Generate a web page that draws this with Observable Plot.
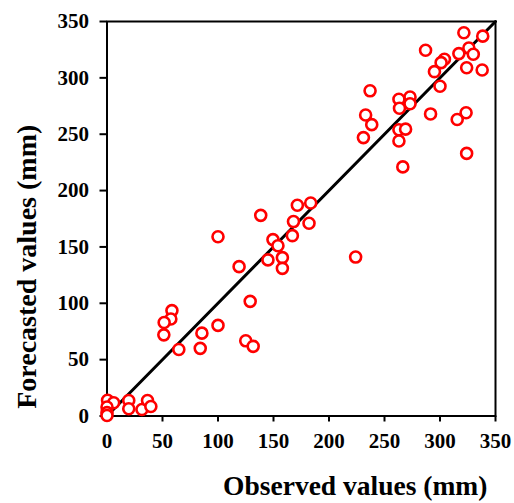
<!DOCTYPE html>
<html>
<head>
<meta charset="utf-8">
<script src="https://cdn.jsdelivr.net/npm/d3@7"></script>
<script src="https://cdn.jsdelivr.net/npm/@observablehq/plot@0.6"></script>
<style>
  html, body { margin: 0; padding: 0; background: #fff; }
  #chart svg { display: block; }
</style>
</head>
<body>
<div id="chart"></div>
<script>
const observed = [321.5, 338.5, 287, 326, 317, 330, 304, 301, 324, 338, 295, 300, 237, 263, 273, 273, 263.5, 233, 291.5, 323.5, 315.5, 238.5, 263, 269, 231, 263, 324, 266.5, 171.5, 183.5, 224, 138.5, 168, 182, 167, 100, 149.5, 154, 145, 158, 158, 119, 129, 58.5, 57.5, 51.5, 51.2, 100, 85.5, 84, 64.7, 125, 131.7, 0.5, 6, 0, 0, 0, 19.6, 19.6, 31.5, 36.5, 39.5];
const forecasted = [340, 337, 324.5, 326.5, 321.5, 321, 316.5, 313.5, 309, 307, 305.5, 292.5, 288.5, 281, 283, 277, 273, 267, 268, 269, 263, 258.5, 254, 254.5, 247, 244, 233, 221, 187, 189, 141, 178, 172.5, 171, 160, 159, 156.5, 151, 138.5, 140.5, 131, 132.5, 101.7, 93.5, 86, 83, 72, 80.4, 73.5, 60, 59, 66.7, 61.8, 14, 11.7, 8, 3, 0.5, 13.8, 6.4, 5.8, 13.8, 8.4];
const tickValues = [0, 50, 100, 150, 200, 250, 300, 350];
const lineX = [0, 350];
const lineY = [0, 350];
const xLabel = "Observed values (mm)";
const yLabel = "Forecasted values (mm)";

const points = observed.map((x, i) => ({x, y: forecasted[i]}));
const diag = lineX.map((x, i) => ({x, y: lineY[i]}));

const chart = Plot.plot({
  width: 514,
  height: 503,
  marginLeft: 106.5,
  marginRight: 19,
  marginTop: 21,
  marginBottom: 87.5,
  style: {fontFamily: "'Liberation Serif', 'Times New Roman', serif", background: "#fff"},
  x: {domain: [0, 350]},
  y: {domain: [0, 350]},
  marks: [
    Plot.frame({stroke: "black", strokeWidth: 2}),
    Plot.axisX({ticks: tickValues, tickSize: 6, tickPadding: 11, fontSize: 21, fontWeight: "bold", strokeWidth: 2, stroke: "black", fill: "black", label: null, tickFormat: d => String(d)}),
    Plot.axisY({ticks: tickValues, tickSize: 7, tickPadding: 11, fontSize: 21, fontWeight: "bold", strokeWidth: 2, stroke: "black", fill: "black", label: null, tickFormat: d => String(d)}),
    Plot.line(diag, {x: "x", y: "y", stroke: "black", strokeWidth: 3}),
    Plot.dot(points, {x: "x", y: "y", r: 5.5, stroke: "#ff0000", strokeWidth: 2.6, fill: "white"}),
    Plot.text([xLabel], {text: d => d, frameAnchor: "bottom", textAnchor: "middle", lineAnchor: "middle", dx: 54, dy: 70, fontSize: 27.5, fontWeight: "bold", fill: "black"}),
    Plot.text([yLabel], {text: d => d, frameAnchor: "left", textAnchor: "middle", lineAnchor: "middle", rotate: -90, dx: -80, dy: 48, fontSize: 28, fontWeight: "bold", fill: "black"})
  ]
});
document.getElementById("chart").appendChild(chart);
</script>
</body>
</html>
